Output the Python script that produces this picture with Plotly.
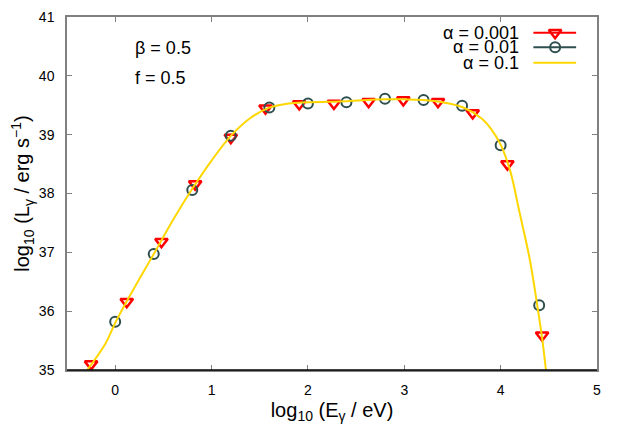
import plotly.graph_objs as go

# alpha = 0.001 (red open triangles)
tri_x = [-0.25, 0.12, 0.48, 0.83, 1.20, 1.56, 1.91, 2.27, 2.63, 2.99, 3.35, 3.71, 4.07, 4.43]
tri_y = [35.10, 36.16, 37.18, 38.16, 38.95, 39.45, 39.52, 39.53, 39.56, 39.59, 39.56, 39.37, 38.50, 35.59]

# alpha = 0.01 (dark slate circles)
circ_x = [0.0, 0.4, 0.8, 1.2, 1.6, 2.0, 2.4, 2.8, 3.2, 3.6, 4.0, 4.4]
circ_y = [35.82, 36.97, 38.06, 38.98, 39.46, 39.53, 39.55, 39.61, 39.59, 39.49, 38.82, 36.10]

# alpha = 0.1 (gold line)
line_x = [-0.29, -0.1, 0.0, 0.2, 0.4, 0.6, 0.8, 1.0, 1.2, 1.4, 1.6, 1.8, 2.0, 2.4,
          2.8, 3.0, 3.2, 3.4, 3.6, 3.8, 3.9, 4.0, 4.1, 4.2, 4.3, 4.38, 4.43, 4.47]
line_y = [35.0, 35.45, 35.8, 36.4, 36.97, 37.55, 38.08, 38.56, 38.98, 39.28, 39.46, 39.53, 39.55, 39.57,
          39.6, 39.6, 39.59, 39.55, 39.47, 39.28, 39.1, 38.83, 38.38, 37.65, 36.9, 36.1, 35.55, 35.0]

labels = ["α = 0.001", "α = 0.01", "α = 0.1"]
red = "#ff0000"
slate = "#2f4f4f"
gold = "#ffd700"
font = "Liberation Sans, Arial, sans-serif"

fig = go.Figure()

fig.add_trace(go.Scatter(x=tri_x, y=tri_y, mode="markers",
                         marker=dict(symbol="triangle-down-open", size=11, color=red,
                                     line=dict(width=2.5, color=red))))
fig.add_trace(go.Scatter(x=circ_x, y=circ_y, mode="markers",
                         marker=dict(symbol="circle-open", size=10, color=slate,
                                     line=dict(width=2, color=slate))))
fig.add_trace(go.Scatter(x=line_x, y=line_y, mode="lines", line_shape="spline",
                         line=dict(color=gold, width=2)))

# hand-made legend (gnuplot style: text first, sample on the right)
rows = [0.9555, 0.914, 0.8706]
styles = [
    dict(line=dict(color=red, width=2),
         marker=dict(symbol="triangle-down-open", size=11, color=red, line=dict(width=2.5, color=red))),
    dict(line=dict(color=slate, width=2),
         marker=dict(symbol="circle-open", size=10, color=slate, line=dict(width=2, color=slate))),
    dict(line=dict(color=gold, width=2), marker=dict(size=1, opacity=0)),
]
for lab, yy, stl in zip(labels, rows, styles):
    fig.add_trace(go.Scatter(x=[0.88, 0.9606], y=[yy, yy], mode="lines", line=stl["line"],
                             xaxis="x2", yaxis="y2", hoverinfo="skip"))
    fig.add_trace(go.Scatter(x=[0.921], y=[yy], mode="markers", marker=stl["marker"],
                             xaxis="x2", yaxis="y2", hoverinfo="skip"))
    fig.add_annotation(x=0.857, y=yy, xref="paper", yref="paper", text=lab, showarrow=False,
                       xanchor="right", yanchor="middle", font=dict(size=18, color="black"))

fig.add_annotation(x=0.125, y=0.912, xref="paper", yref="paper", text="β = 0.5", showarrow=False,
                   xanchor="left", yanchor="middle", font=dict(size=18, color="black"))
fig.add_annotation(x=0.125, y=0.827, xref="paper", yref="paper", text="f = 0.5", showarrow=False,
                   xanchor="left", yanchor="middle", font=dict(size=18, color="black"))

# black bottom border
fig.add_shape(type="line", xref="paper", yref="paper", x0=0, x1=1, y0=0, y1=0,
              line=dict(color="black", width=1.5))

# page body has an 8px margin, so the figure is a bit smaller than the window
fig.update_layout(
    width=615, height=428,
    margin=dict(l=59, r=26, t=9, b=66),
    paper_bgcolor="white", plot_bgcolor="white",
    showlegend=False,
    font=dict(family=font, size=14, color="black"),
    xaxis=dict(range=[-0.5, 5], tickvals=[0, 1, 2, 3, 4, 5], showgrid=False, zeroline=False,
               showline=True, linecolor="#808080", linewidth=1.5, mirror="ticks",
               ticks="inside", ticklen=5, tickcolor="#808080", tickwidth=1,
               ticklabelstandoff=6, automargin=False,
               title=dict(text="log<sub>10</sub> (E<sub>γ</sub> / eV)", font=dict(size=20), standoff=6)),
    yaxis=dict(range=[35, 41], tickvals=[35, 36, 37, 38, 39, 40, 41], showgrid=False, zeroline=False,
               showline=True, linecolor="#808080", linewidth=1.5, mirror="ticks",
               ticks="inside", ticklen=5, tickcolor="#808080", tickwidth=1,
               ticklabelstandoff=8, automargin=False,
               title=dict(text="log<sub>10</sub> (L<sub>γ</sub> / erg s<sup>−1</sup>)", font=dict(size=20),
                          standoff=8)),
    xaxis2=dict(overlaying="x", range=[0, 1], visible=False),
    yaxis2=dict(overlaying="y", range=[0, 1], visible=False),
)

fig.write_html("out.html")
